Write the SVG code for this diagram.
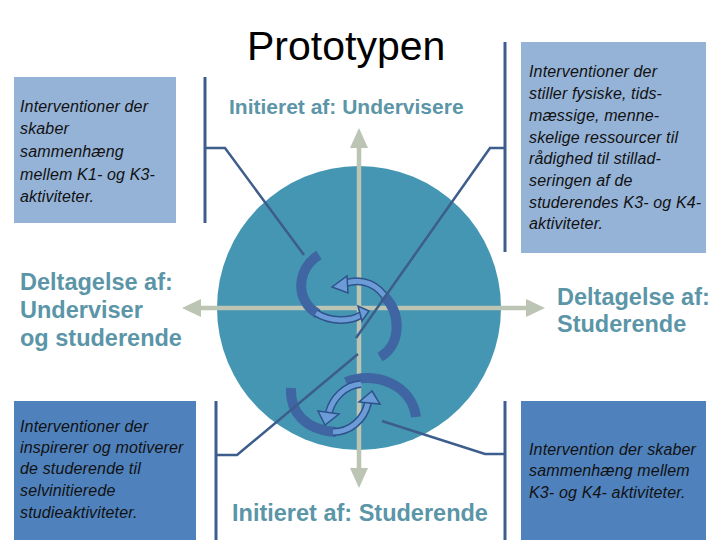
<svg xmlns="http://www.w3.org/2000/svg" width="720" height="540" viewBox="0 0 720 540">
<style>
.box1{fill:#95b3d7}
.box2{fill:#4f81bd}
.bt{font-family:"Liberation Sans",Arial,sans-serif;font-style:italic;font-size:16px;letter-spacing:0.15px;fill:#111}
.lbl{font-family:"Liberation Sans",Arial,sans-serif;font-weight:bold;font-size:21px;fill:#5b95a8}
.lbl2{font-family:"Liberation Sans",Arial,sans-serif;font-weight:bold;font-size:23.5px;fill:#5b95a8}
.br{fill:none;stroke:#3d5d8c;stroke-width:3}
.cn{fill:none;stroke:#3d5d8c;stroke-width:2.5}
.axis{stroke:#bcc4b4;stroke-width:4.5}
.thick{fill:none;stroke:#3f66a2;stroke-width:10}
.lo{fill:none;stroke:#2f528a;stroke-width:8}
.li{fill:none;stroke:#6c9cd8;stroke-width:5}
.ah{fill:#6c9cd8;stroke:#2f528a;stroke-width:1.5}
</style>
<rect width="720" height="540" fill="#ffffff"/>
<text x="247" y="60" font-family="Liberation Sans,Arial,sans-serif" font-size="41" fill="#000">Prototypen</text>

<g id="circle">
<circle cx="359" cy="308" r="142" fill="#4496b2"/>
</g>

<g id="axes">
<line class="axis" x1="200" y1="308" x2="527" y2="308"/>
<polygon points="182,308 201,299 201,317" fill="#bcc4b4"/>
<polygon points="545,308 526,299 526,317" fill="#bcc4b4"/>
<line class="axis" x1="359" y1="146" x2="359" y2="470"/>
<polygon points="359,128 350,148 368,148" fill="#bcc4b4"/>
<polygon points="359,488 350,468 368,468" fill="#bcc4b4"/>
</g>

<g id="label-top"><text class="lbl" x="229" y="114">Initieret af: Undervisere</text></g>
<g id="label-bottom"><text class="lbl2" x="232" y="521">Initieret af: Studerende</text></g>
<g id="label-left">
<text class="lbl2" x="20" y="290">Deltagelse af:</text>
<text class="lbl2" x="20" y="318">Underviser</text>
<text class="lbl2" x="20" y="346">og studerende</text>
</g>
<g id="label-right">
<text class="lbl2" x="557" y="305">Deltagelse af:</text>
<text class="lbl2" x="557" y="332">Studerende</text>
</g>

<g id="box-tl">
<rect class="box1" x="14" y="77" width="162" height="146"/>
<text class="bt" x="20" y="112">Interventioner der</text>
<text class="bt" x="20" y="134">skaber</text>
<text class="bt" x="20" y="157">sammenhæng</text>
<text class="bt" x="20" y="180">mellem K1- og K3-</text>
<text class="bt" x="20" y="202">aktiviteter.</text>
</g>
<g id="box-tr">
<rect class="box1" x="521" y="42" width="185" height="211"/>
<text class="bt" x="529" y="77">Interventioner der</text>
<text class="bt" x="529" y="99">stiller fysiske, tids-</text>
<text class="bt" x="529" y="121">mæssige, menne-</text>
<text class="bt" x="529" y="143">skelige ressourcer til</text>
<text class="bt" x="529" y="164">rådighed til stillad-</text>
<text class="bt" x="529" y="186">seringen af de</text>
<text class="bt" x="529" y="208">studerendes K3- og K4-</text>
<text class="bt" x="529" y="229">aktiviteter.</text>
</g>
<g id="box-bl">
<rect class="box2" x="14" y="401" width="182" height="139"/>
<text class="bt" x="20" y="432">Interventioner der</text>
<text class="bt" x="20" y="453">inspirerer og motiverer</text>
<text class="bt" x="20" y="474">de studerende til</text>
<text class="bt" x="20" y="496">selvinitierede</text>
<text class="bt" x="20" y="518">studieaktiviteter.</text>
</g>
<g id="box-br">
<rect class="box2" x="521" y="401" width="185" height="139"/>
<text class="bt" x="529" y="455">Intervention der skaber</text>
<text class="bt" x="529" y="476">sammenhæng mellem</text>
<text class="bt" x="529" y="498">K3- og K4- aktiviteter.</text>
</g>

<g id="cycle-upper">
<path class="thick" d="M 319,255 C 297,268 294,300 318,314"/>
<path class="lo" d="M 316,313 C 330,322 350,322 361,315"/>
<path class="li" d="M 316,313 C 330,322 350,322 361,315"/>
<polygon class="ah" points="369,311 358,306 362,321"/>
<path class="lo" d="M 387,300 C 378,284 362,278 346,283"/>
<path class="li" d="M 387,300 C 378,284 362,278 346,283"/>
<polygon class="ah" points="332,287 347,276 348,293"/>
<path class="thick" d="M 384,296 C 402,314 401,345 380,357"/>
</g>

<g id="cycle-lower">
<path class="thick" d="M 291,388 C 290,412 305,430 336,432"/>
<path class="thick" d="M 346,382 C 375,370 412,385 416,417"/>
<path class="lo" d="M 361,384 C 345,385 333,398 329,412"/>
<path class="li" d="M 361,384 C 345,385 333,398 329,412"/>
<polygon class="ah" points="325,425 318,411 339,414"/>
<path class="lo" d="M 333,432 C 350,432 364,420 368,403"/>
<path class="li" d="M 333,432 C 350,432 364,420 368,403"/>
<polygon class="ah" points="372,391 359,402 380,404"/>
</g>

<g id="connectors">
<polyline class="br" points="205,77 205,223"/>
<polyline class="cn" points="205,148 225,148 304,255"/>
<polyline class="br" points="505,42 505,252"/>
<polyline class="cn" points="505,148 490,148 356,338"/>
<polyline class="br" points="216,401 216,540"/>
<polyline class="cn" points="216,455 237,455 358,354"/>
<polyline class="br" points="505,401 505,540"/>
<polyline class="cn" points="505,454 485,454 382,421"/>
</g>
</svg>
